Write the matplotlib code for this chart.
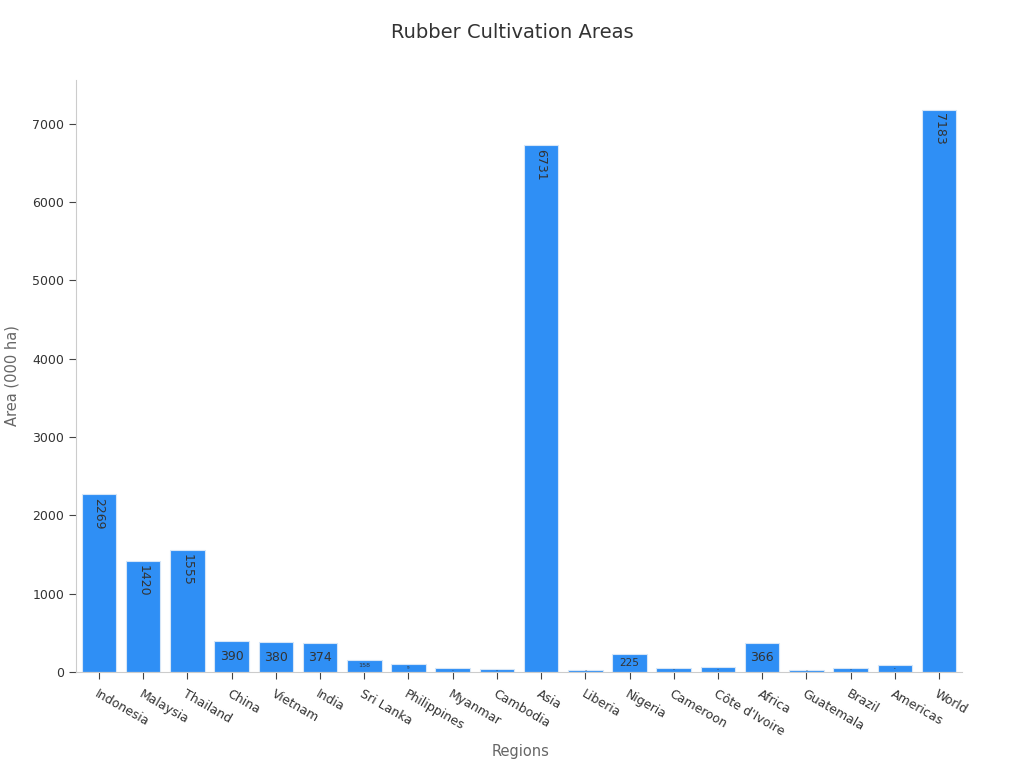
import numpy as np
import matplotlib
matplotlib.use("Agg")
import matplotlib.pyplot as plt

# Dados
regions = ['Indonesia', 'Malaysia', 'Thailand', 'China', 'Vietnam', 'India',
           'Sri Lanka', 'Philippines', 'Myanmar', 'Cambodia', 'Asia', 'Liberia',
           'Nigeria', 'Cameroon', "Côte d'Ivoire", 'Africa', 'Guatemala',
           'Brazil', 'Americas', 'World']
areas = [2269, 1420, 1555, 390, 380, 374, 158, 99, 47, 38, 6731, 28, 225,
         55, 58, 366, 30, 56, 86, 7183]

plt.rcParams['font.family'] = ['DejaVu Sans']

fig = plt.figure(figsize=(10.24, 7.68), dpi=100)
ax = fig.add_axes([76 / 1024, 1 - 672 / 768, (962 - 76) / 1024, (672 - 80) / 768])

x = np.arange(len(regions))
ax.bar(x, areas, width=0.78, color='#2f8ff5', edgecolor='#d6e6f7', linewidth=0.8)

ax.set_xlim(-0.52, len(regions) - 0.48)
ax.set_ylim(0, 7560)
ax.set_yticks(range(0, 7001, 1000))

# Rótulos dentro das barras
px_per_unit = 592 / 7560
for xi, v in zip(x, areas):
    h_px = v * px_per_unit
    if v > 1000:
        ax.text(xi, v - 50, str(v), rotation=-90, ha='center', va='top',
                fontsize=9, color='#333333')
    else:
        fs = min(9, max(1, (h_px - 4) * 0.55))
        ax.text(xi, v / 2, str(v), ha='center', va='center',
                fontsize=fs, color='#333333')

ax.set_xticks(x)
ax.set_xticklabels(regions, rotation=-30, ha='left', rotation_mode='anchor',
                   fontsize=9, color='#333333')
ax.tick_params(axis='y', labelsize=9, colors='#333333', length=5, color='#444444')
ax.tick_params(axis='x', length=5, color='#444444', pad=6)

for s in ['top', 'right']:
    ax.spines[s].set_visible(False)
for s in ['left', 'bottom']:
    ax.spines[s].set_color('#cccccc')

ax.set_xlabel('Regions', fontsize=10.5, color='#666666')
ax.set_ylabel('Area (000 ha)', fontsize=10.5, color='#666666')
ax.xaxis.set_label_coords((521 - 76) / 886, -(744 - 672) / 592)
ax.yaxis.set_label_coords(-(76 - 20) / 886, (672 - 376) / 592)
fig.text(0.5, 1 - 33 / 768, 'Rubber Cultivation Areas', ha='center', va='center',
         fontsize=14, color='#333333')

fig.savefig('out.png', dpi=100)
